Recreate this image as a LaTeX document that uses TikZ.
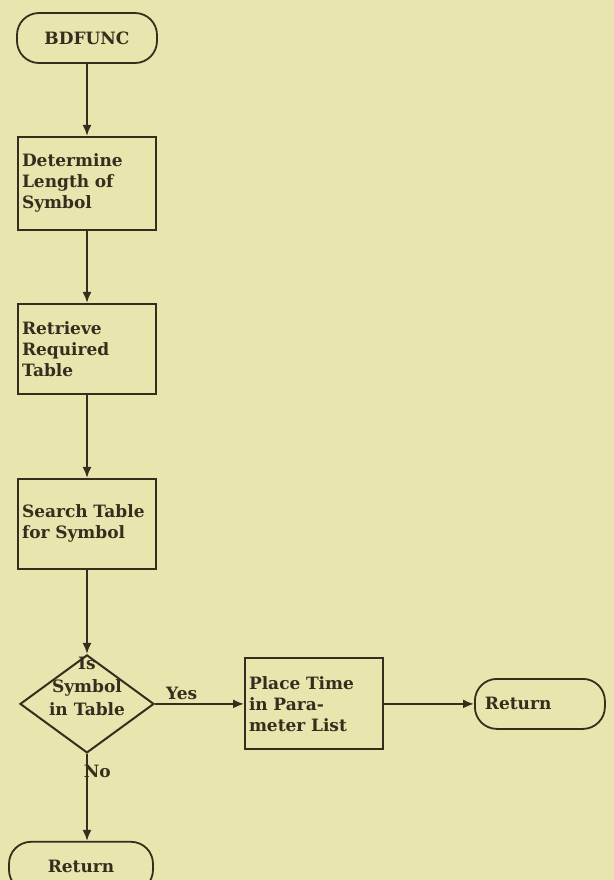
\documentclass[tikz,border=0pt]{standalone}
\usepackage{fontspec}
\setmainfont{DejaVu Serif}
\usetikzlibrary{arrows.meta,positioning,shapes.geometric}

\definecolor{paper}{RGB}{233,229,174}
\definecolor{ink}{RGB}{55,45,30}

\begin{document}
\begin{tikzpicture}[
        x=0.5pt, y=0.5pt,
        every node/.style={
          font=\fontsize{8.5}{10.5}\selectfont\bfseries,
          text=ink
        },
        box/.style={
          draw=ink,
          line width=1pt,
          minimum width=69pt,
          text width=65pt,
          inner xsep=2pt,
          align=left
        },
        term/.style={
          draw=ink,
          line width=0.9pt,
          rounded corners=11pt,
          minimum height=25pt
        },
        decision/.style={
          draw=ink,
          line width=1pt,
          diamond,
          inner sep=0pt,
          minimum width=67pt,
          minimum height=49pt
        },
        flow/.style={draw=ink, line width=0.9pt, ->},
        >={Latex[length=5.5pt,width=4.5pt]}
      ]

        \useasboundingbox (0,0) rectangle (614,-880);
        \fill[paper] (0,0) rectangle (614,-880);

        % main column
        \node[term, minimum width=70pt] (bdfunc) at (87,-38) {BDFUNC};
        \node[box, minimum height=46.5pt, below=36pt of bdfunc] (length) {Determine\\Length of\\Symbol};
        \node[box, minimum height=45pt, below=36pt of length] (table) {Retrieve\\Required\\Table};
        \node[box, minimum height=45pt, below=41.5pt of table] (search) {Search Table\\for Symbol};
        \node[decision, below=42pt of search,
          label={[align=center, yshift=8.5pt, font=\fontsize{8.5}{11.5}\selectfont\bfseries]center:Is\\Symbol\\in Table}] (found) {};
        \node[term, minimum width=72pt, below=43.5pt of found, xshift=-3pt] (retno) {Return};

        % yes branch
        \node[box, minimum width=69pt, text width=65pt, minimum height=45.5pt, right=44.5pt of found] (place) {Place Time\\in Para-\\meter List};
        \node[term, minimum width=65pt, text width=55pt, inner xsep=5pt, align=left, right=45pt of place] (retyes) {Return};

        \draw[flow] (bdfunc) -- (length);
        \draw[flow] (length) -- (table);
        \draw[flow] (table) -- (search);
        \draw[flow] (search) -- (found);
        \draw[flow] (found) -- node[above, pos=0.3, inner sep=1.5pt] {Yes} (place);
        \draw[flow] (place) -- (retyes);
        \draw[flow] (found.south) -- node[pos=0.2, anchor=west, inner sep=0pt, xshift=-2pt] {No} (found.south |- retno.north);

      \end{tikzpicture}
\end{document}
